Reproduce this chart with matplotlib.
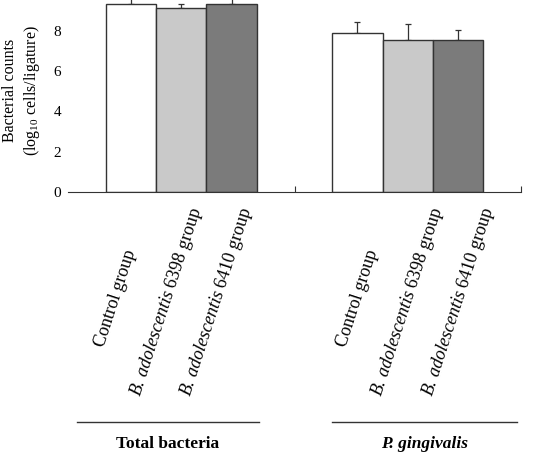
import matplotlib.pyplot as plt
import matplotlib.transforms as mtransforms
import numpy as np

groups = ['Total bacteria', 'P. gingivalis']
group_styles = ['normal', 'italic']
treatments = ['Control group', 'B. adolescentis 6398 group', 'B. adolescentis 6410 group']
means = [[9.34, 9.13, 9.34],
         [7.92, 7.54, 7.54]]
errors = [[0.3, 0.2, 0.3],
          [0.53, 0.8, 0.5]]
yticks = [0, 2, 4, 6, 8]

colors = ['white', '#c9c9c9', '#7b7b7b']

plt.rcParams['font.family'] = ['Liberation Serif', 'DejaVu Serif']
plt.rcParams['mathtext.fontset'] = 'custom'
plt.rcParams['mathtext.rm'] = 'Liberation Serif'
plt.rcParams['mathtext.it'] = 'Liberation Serif:italic'

fig = plt.figure(figsize=(5.46, 4.53), dpi=100)
ax = fig.add_axes([68 / 546, 1 - 192 / 453, (521 - 68) / 546, 192 / 453])

width = 1.0
group_pos = [0.0, 4.5]
label_shift = [-0.3, 0.0]
line_span = [(-1.08, 2.55), (4.0, 7.68)]
trans = mtransforms.blended_transform_factory(ax.transData, fig.transFigure)

for g in range(len(groups)):
    xs = group_pos[g] + np.arange(len(treatments)) * width
    for i in range(len(treatments)):
        ax.bar(xs[i], means[g][i], width=width, color=colors[i],
               edgecolor='#333333', linewidth=1.0, zorder=2)
        ax.errorbar(xs[i], means[g][i], yerr=[[0], [errors[g][i]]], fmt='none',
                    ecolor='#333333', elinewidth=0.9, capsize=2.5, capthick=0.9, zorder=1)
    # rotated treatment labels
    for i, name in enumerate(treatments):
        if name.startswith('B. adolescentis'):
            rest = name[len('B. adolescentis'):]
            txt = r'$\mathit{B.\/adolescentis}$' + rest
            yc = (453 - 302) / 453
        else:
            txt = name
            yc = (453 - 298) / 453
        ax.text(xs[i] + label_shift[g], yc, txt,
                transform=trans, rotation=72, rotation_mode='anchor',
                ha='center', va='center', fontsize=13)
    # group bracket line and name
    x0, x1 = line_span[g]
    ax.plot([x0, x1], [(453 - 421.5) / 453] * 2, transform=trans, color='#333333',
            linewidth=1.0, clip_on=False)
    ax.text((x0 + x1) / 2, (453 - 448) / 453, groups[g], transform=trans, ha='center',
            va='baseline', fontsize=12.5, fontweight='bold', style=group_styles[g])

ax.set_xlim(-1.25, 7.75)
ax.set_ylim(0, 192 / 20.125)
ax.set_yticks(yticks)
ax.set_yticklabels([str(t) for t in yticks], fontsize=11)
ax.tick_params(axis='y', length=0, pad=5)
ax.set_xticks([3.25, 7.75])
ax.set_xticklabels([])
ax.tick_params(axis='x', direction='in', length=4, color='#333333')
for s in ['top', 'right', 'left']:
    ax.spines[s].set_visible(False)
ax.spines['bottom'].set_color('#333333')

fig.text(22 / 546, (453 - 90.5) / 453,
         'Bacterial counts\n(log$_{10}$ cells/ligature)',
         rotation=90, ha='center', va='center', multialignment='center',
         fontsize=11.5, linespacing=1.35)

plt.savefig('out.png', dpi=100)
